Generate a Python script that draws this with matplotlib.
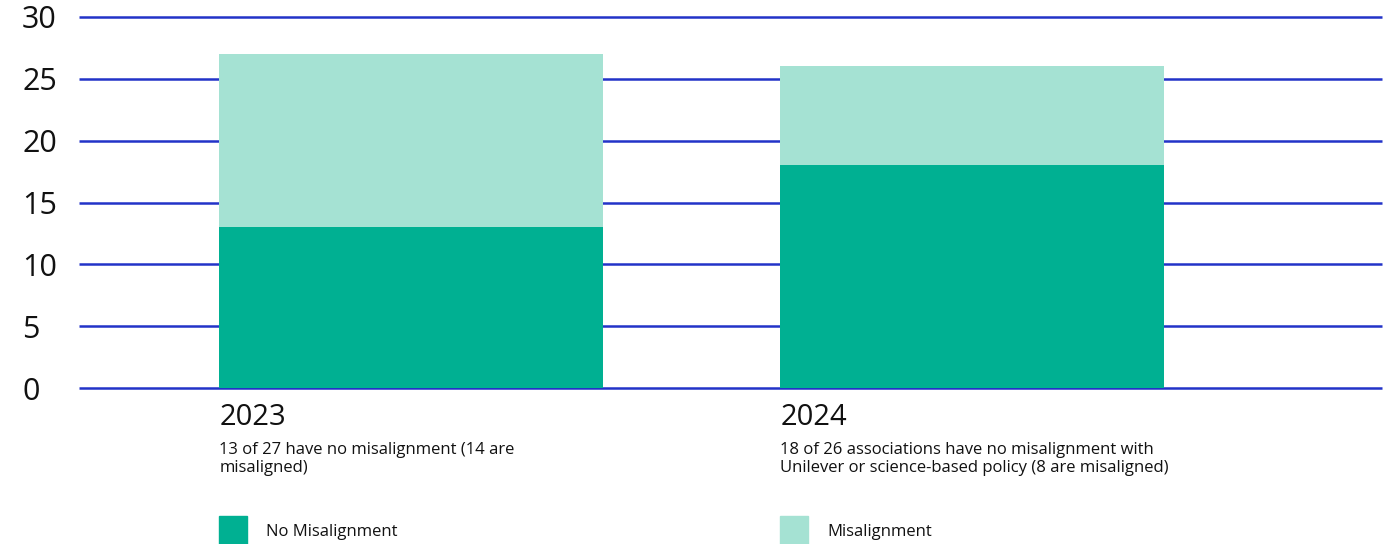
import matplotlib
matplotlib.use("Agg")
import matplotlib.pyplot as plt
from matplotlib.patches import Rectangle

plt.rcParams['font.family'] = ['Open Sans', 'DejaVu Sans']

# Datos
anos = ['2023', '2024']
sem_desalinhamento = [13, 18]
desalinhamento = [14, 8]
descricoes = [
    "13 of 27 have no misalignment (14 are\nmisaligned)",
    "18 of 26 associations have no misalignment with\nUnilever or science-based policy (8 are misaligned)",
]
legendas = ['No Misalignment', 'Misalignment']
cores = ['#00B092', '#A5E2D3']
yticks = [0, 5, 10, 15, 20, 25, 30]

W, H = 1392, 544
fig = plt.figure(figsize=(W / 100, H / 100), dpi=100)
ax = fig.add_axes([79 / W, 1 - 388 / H, (1382 - 79) / W, (388 - 17) / H])

largura = 0.684
xs = list(range(len(anos)))
ax.bar(xs, sem_desalinhamento, width=largura, color=cores[0], zorder=2)
ax.bar(xs, desalinhamento, width=largura, bottom=sem_desalinhamento,
       color=cores[1], zorder=2)

xmin, xmax = -0.592, 1.731
ax.set_xlim(xmin, xmax)
ax.set_ylim(0, 30)
ax.hlines(yticks, xmin, xmax, colors='#2233C8', linewidth=1.8,
          clip_on=False, zorder=1)

for s in ax.spines.values():
    s.set_visible(False)
ax.set_xticks([])
ax.set_yticks(yticks)
ax.set_yticklabels([str(t) for t in yticks], fontsize=22, color='#111111')
for lab in ax.get_yticklabels():
    lab.set_horizontalalignment('left')
ax.tick_params(axis='y', length=0, pad=41)

# Rótulos abaixo das barras
for x, ano, desc in zip(xs, anos, descricoes):
    esq = x - largura / 2
    ax.annotate(ano, xy=(esq, 0), xytext=(0, -10.5), textcoords='offset points',
                ha='left', va='top', fontsize=21, color='#111111',
                annotation_clip=False)
    ax.annotate(desc, xy=(esq, 0), xytext=(0, -39), textcoords='offset points',
                ha='left', va='top', fontsize=12, color='#111111',
                linespacing=1.12, annotation_clip=False)

# Legenda manual
for x, nome, cor in zip(xs, legendas, cores):
    esq_px = ax.transData.transform((x - largura / 2, 0))[0]
    fig.patches.append(Rectangle((esq_px / W, 0), 28 / W, 28 / H,
                                 transform=fig.transFigure, color=cor))
    fig.text((esq_px + 47) / W, 1 - 532 / H, nome, ha='left', va='center',
             fontsize=12, color='#111111')

fig.savefig('out.png', dpi=100)
